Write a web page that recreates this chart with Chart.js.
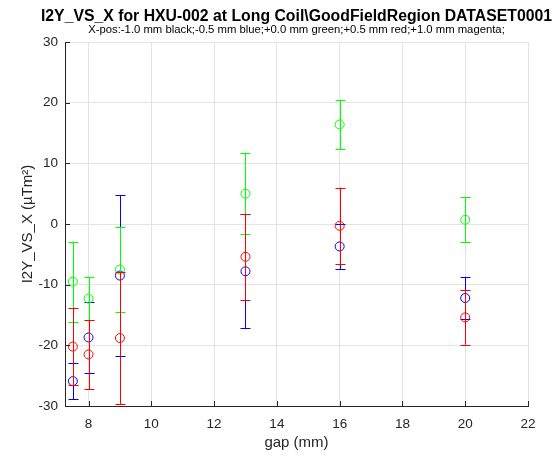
<!DOCTYPE html>
<html>
<head>
<meta charset="utf-8">
<script src="https://cdn.jsdelivr.net/npm/chart.js@4/dist/chart.umd.min.js"></script>
<style>
  body { margin: 0; background: #fff; }
  #wrap { width: 558px; height: 457px; }
</style>
</head>
<body>
<div id="wrap"><canvas id="chart"></canvas></div>
<script>
// data (gap in mm, I2Y in uTm^2)
const gaps = [7.5, 8, 9, 13, 16, 20];

const blueY   = [-25.9, -18.7, -8.5, -7.8, -3.7, -12.2];
const blueErr = [3.0, 5.8, 13.2, 9.4, 3.7, 3.5];

const greenY   = [-9.5, -12.3, -7.5, 5.0, 16.4, 0.7];
const greenErr = [6.6, 3.5, 7.0, 6.7, 4.1, 3.7];

const redY   = [-20.2, -21.5, -18.8, -5.4, -0.3, -15.4];
const redErr = [6.4, 5.7, 10.9, 7.1, 6.3, 4.5];

const xTicks = [8, 10, 12, 14, 16, 18, 20, 22];
const yTicks = [-30, -20, -10, 0, 10, 20, 30];

const TITLE = "I2Y_VS_X for HXU-002 at Long Coil\\GoodFieldRegion DATASET0001";
const SUBTITLE = "X-pos:-1.0 mm black;-0.5 mm blue;+0.0 mm green;+0.5 mm red;+1.0 mm magenta;";

const FONT = "'Liberation Sans', Arial, Helvetica, sans-serif";
const AXIS = "#262626";

function series(label, color, ys, errs) {
  return {
    label,
    data: gaps.map((g, i) => ({ x: g, y: ys[i] })),
    errors: errs,
    borderColor: color,
    backgroundColor: "transparent",
    pointStyle: "circle",
    pointRadius: 4.5,
    pointBorderWidth: 1,
    showLine: false
  };
}

// error bars drawn per dataset, just before its markers
const errorBars = {
  id: "errorBars",
  beforeDatasetDraw(chart, args) {
    const ds = chart.data.datasets[args.index];
    const xs = chart.scales.x, ys = chart.scales.y;
    const ctx = chart.ctx;
    ctx.save();
    ctx.strokeStyle = ds.borderColor;
    ctx.lineWidth = 1;
    ds.data.forEach((p, i) => {
      const px = Math.round(xs.getPixelForValue(p.x)) + 0.5;
      const top = ys.getPixelForValue(p.y + ds.errors[i]);
      const bot = ys.getPixelForValue(p.y - ds.errors[i]);
      ctx.beginPath();
      ctx.moveTo(px, top); ctx.lineTo(px, bot);
      ctx.moveTo(px - 5, Math.round(top) + 0.5); ctx.lineTo(px + 5, Math.round(top) + 0.5);
      ctx.moveTo(px - 5, Math.round(bot) + 0.5); ctx.lineTo(px + 5, Math.round(bot) + 0.5);
      ctx.stroke();
    });
    ctx.restore();
  }
};

// inward tick marks like matlab
const innerTicks = {
  id: "innerTicks",
  afterDraw(chart) {
    const { ctx, chartArea: a } = chart;
    const xs = chart.scales.x, ys = chart.scales.y;
    ctx.save();
    ctx.strokeStyle = AXIS;
    ctx.lineWidth = 1;
    ctx.beginPath();
    xTicks.forEach(v => {
      const px = Math.round(xs.getPixelForValue(v)) + 0.5;
      ctx.moveTo(px, a.bottom); ctx.lineTo(px, a.bottom - 5);
    });
    yTicks.forEach(v => {
      const py = Math.round(ys.getPixelForValue(v)) + 0.5;
      ctx.moveTo(a.left, py); ctx.lineTo(a.left + 5, py);
    });
    ctx.stroke();
    ctx.restore();
  }
};

// title + subtitle centred over the axes (the built-in title squeezes long text)
const axesTitle = {
  id: "axesTitle",
  afterDraw(chart) {
    const { ctx, chartArea: a } = chart;
    const cx = (a.left + a.right) / 2;
    ctx.save();
    ctx.textAlign = "center";
    ctx.textBaseline = "alphabetic";
    ctx.fillStyle = "#000";
    ctx.font = "bold 15.8px " + FONT;
    ctx.fillText(TITLE, cx, 21);
    ctx.font = "11.3px " + FONT;
    ctx.fillText(SUBTITLE, cx, 32.5);
    ctx.restore();
  }
};

new Chart(document.getElementById("chart"), {
  type: "scatter",
  data: {
    // chart.js paints the last dataset first, so red ends up on top
    datasets: [
      series("+0.5 mm", "#ff0000", redY, redErr),
      series("+0.0 mm", "#00ff00", greenY, greenErr),
      series("-0.5 mm", "#0000ff", blueY, blueErr)
    ]
  },
  options: {
    responsive: true,
    maintainAspectRatio: false,
    animation: false,
    layout: { padding: { left: 0, right: 30, top: 42, bottom: 0 } },
    plugins: {
      legend: { display: false },
      tooltip: { enabled: false },
      title: { display: false }
    },
    scales: {
      x: {
        type: "linear",
        min: 7.25,
        max: 22,
        afterBuildTicks: s => { s.ticks = xTicks.map(v => ({ value: v })); },
        afterFit: s => { s.height = 51; },
        grid: { color: "#e3e3e3", drawTicks: false },
        border: { color: AXIS, width: 1 },
        ticks: { color: AXIS, padding: 10, maxRotation: 0, font: { family: FONT, size: 13.5 } },
        title: {
          display: true,
          text: "gap (mm)",
          color: AXIS,
          font: { family: FONT, size: 15 },
          padding: { top: 0, bottom: 5.5 }
        }
      },
      y: {
        type: "linear",
        min: -30,
        max: 30,
        afterBuildTicks: s => { s.ticks = yTicks.map(v => ({ value: v })); },
        afterFit: s => { s.width = 65; },
        grid: { color: "#e3e3e3", drawTicks: false },
        border: { color: AXIS, width: 1 },
        ticks: { color: AXIS, padding: 7, font: { family: FONT, size: 13.5 } },
        title: {
          display: true,
          text: "I2Y_VS_X (\u00b5Tm\u00b2)",
          color: AXIS,
          font: { family: FONT, size: 15 },
          padding: { top: 19, bottom: 0 }
        }
      }
    }
  },
  plugins: [errorBars, innerTicks, axesTitle]
});
</script>
</body>
</html>
